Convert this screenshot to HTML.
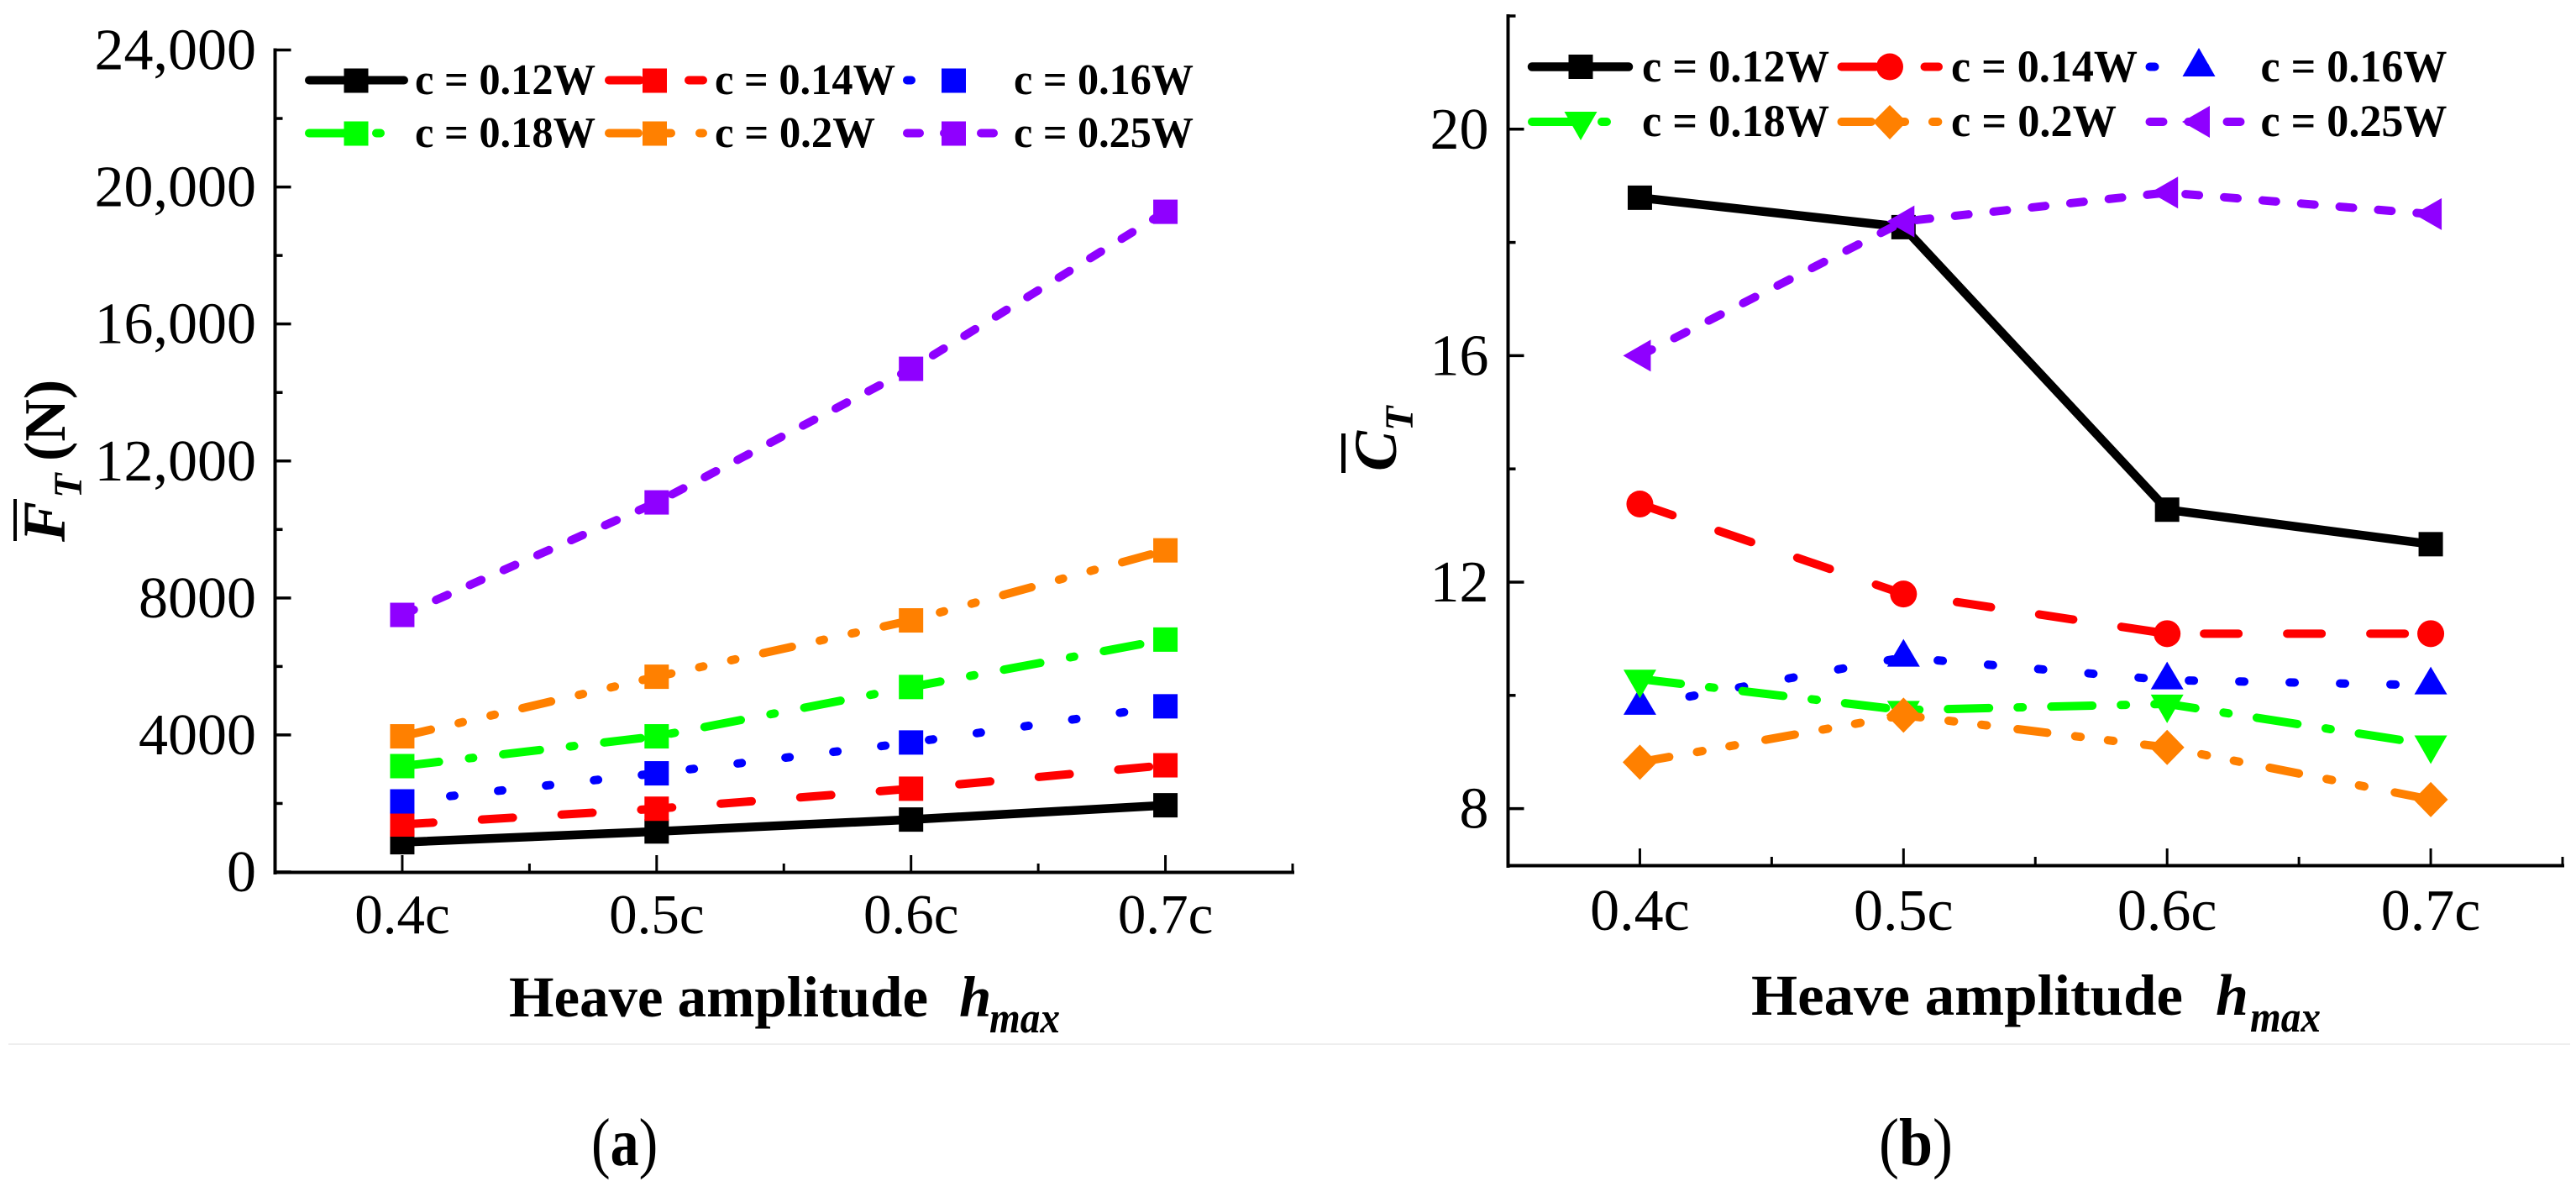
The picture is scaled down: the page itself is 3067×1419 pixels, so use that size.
<!DOCTYPE html>
<html lang="en">
<head>
<meta charset="utf-8">
<title>Thrust vs heave amplitude</title>
<style>
html,body{margin:0;padding:0;background:#fff;}
body{width:3067px;height:1419px;overflow:hidden;}
svg{display:block;}
text{font-family:"Liberation Serif",serif;fill:#000;}
.leg{font-size:52px;font-weight:bold;}
.legb{font-size:54px;font-weight:bold;}
.tick{font-size:70px;}
.ttl{font-weight:bold;}
.bi{font-weight:bold;font-style:italic;}
</style>
</head>
<body>
<svg id="figure" xmlns="http://www.w3.org/2000/svg" width="3067" height="1419" viewBox="0 0 3067 1419">
  <rect x="0" y="0" width="3067" height="1419" fill="#ffffff"/>
  <rect x="10" y="1242" width="3050" height="2" fill="#eeeeee"/>

  <g id="chart-a"></g>
  <g id="chart-b"></g>

  <!-- chart a titles -->
  <g>
    <rect x="16" y="594" width="4" height="50" fill="#000"/>
    <text class="bi" transform="translate(77,645) rotate(-90)" font-size="72">F</text>
    <text class="bi" transform="translate(97,593) rotate(-90)" font-size="48">T</text>
    <text class="ttl" transform="translate(77,549) rotate(-90)" font-size="70">(N)</text>
  </g>
  <g>
    <text class="ttl" x="606" y="1210" font-size="69" textLength="499" lengthAdjust="spacingAndGlyphs">Heave amplitude</text>
    <text class="bi" x="1142" y="1210" font-size="69">h</text>
    <text class="bi" x="1178" y="1229" font-size="52" textLength="84" lengthAdjust="spacingAndGlyphs">max</text>
  </g>
  <text transform="translate(704,1387) scale(.85,1)" font-size="80">(<tspan font-weight="bold">a</tspan>)</text>

  <!-- chart b titles -->
  <g>
    <rect x="1597" y="516" width="5" height="47" fill="#000"/>
    <text class="bi" transform="translate(1662,561) rotate(-90)" font-size="72">C</text>
    <text class="bi" transform="translate(1682,513) rotate(-90)" font-size="48">T</text>
  </g>
  <g>
    <text class="ttl" x="2085" y="1208" font-size="69" textLength="514" lengthAdjust="spacingAndGlyphs">Heave amplitude</text>
    <text class="bi" x="2638" y="1208" font-size="70">h</text>
    <text class="bi" x="2679" y="1228" font-size="52" textLength="84" lengthAdjust="spacingAndGlyphs">max</text>
  </g>
  <text transform="translate(2237,1387) scale(.9,1)" font-size="80">(<tspan font-weight="bold">b</tspan>)</text>

  <!-- legend a -->
  <g stroke-linecap="round" stroke-width="10" fill="none">
    <g>
      <line x1="368" y1="95.5" x2="481" y2="95.5" stroke="#000000" stroke-width="10"/>
      <rect x="409.500" y="81.500" width="29" height="29" fill="#000000" stroke="none"/>
      <text class="leg" x="494" y="112" stroke="none" textLength="215" lengthAdjust="spacingAndGlyphs">c = 0.12W</text>
    </g>
    <g>
      <line x1="725" y1="95.5" x2="837" y2="95.5" stroke="#ff0000" stroke-dasharray="37 58"/>
      <rect x="765" y="81.500" width="29" height="29" fill="#ff0000" stroke="none"/>
      <text class="leg" x="851" y="112" stroke="none" textLength="215" lengthAdjust="spacingAndGlyphs">c = 0.14W</text>
    </g>
    <g>
      <line x1="1080" y1="95.5" x2="1187" y2="95.5" stroke="#0000ff" stroke-dasharray="5 52.4"/>
      <rect x="1121" y="81.500" width="29" height="29" fill="#0000ff" stroke="none"/>
      <text class="leg" x="1207" y="112" stroke="none" textLength="214" lengthAdjust="spacingAndGlyphs">c = 0.16W</text>
    </g>
    <g>
      <line x1="368" y1="158.5" x2="481" y2="158.5" stroke="#00ff00" stroke-dasharray="44 36 5 36"/>
      <rect x="409.500" y="144.500" width="29" height="29" fill="#00ff00" stroke="none"/>
      <text class="leg" x="494" y="175" stroke="none" textLength="215" lengthAdjust="spacingAndGlyphs">c = 0.18W</text>
    </g>
    <g>
      <line x1="725" y1="158.5" x2="837" y2="158.5" stroke="#ff8000" stroke-dasharray="35 34 5 34 5 34"/>
      <rect x="765" y="144.500" width="29" height="29" fill="#ff8000" stroke="none"/>
      <text class="leg" x="851" y="175" stroke="none" textLength="191" lengthAdjust="spacingAndGlyphs">c = 0.2W</text>
    </g>
    <g>
      <line x1="1080" y1="158.5" x2="1184" y2="158.5" stroke="#8f00ff" stroke-dasharray="15 29"/>
      <rect x="1121" y="144.500" width="29" height="29" fill="#8f00ff" stroke="none"/>
      <text class="leg" x="1207" y="175" stroke="none" textLength="214" lengthAdjust="spacingAndGlyphs">c = 0.25W</text>
    </g>
  </g>

  <!-- legend b -->
  <g stroke-linecap="round" stroke-width="10" fill="none">
    <g>
      <line x1="1824" y1="79.5" x2="1939" y2="79.5" stroke="#000000" stroke-width="10.500"/>
      <rect x="1867.500" y="65" width="29" height="29" fill="#000000" stroke="none"/>
      <text class="legb" x="1955" y="97" stroke="none" textLength="223" lengthAdjust="spacingAndGlyphs">c = 0.12W</text>
    </g>
    <g>
      <line x1="2192.5" y1="79.5" x2="2308" y2="79.5" stroke="#ff0000" stroke-dasharray="41 58"/>
      <circle cx="2250" cy="79.5" r="16" fill="#ff0000" stroke="none"/>
      <text class="legb" x="2323" y="97" stroke="none" textLength="222" lengthAdjust="spacingAndGlyphs">c = 0.14W</text>
    </g>
    <g>
      <line x1="2559.5" y1="79.5" x2="2670" y2="79.5" stroke="#0000ff" stroke-dasharray="6 54"/>
      <polygon points="2618,57 2637.500,91 2598.500,91" fill="#0000ff" stroke="none"/>
      <text class="legb" x="2691.500" y="97" stroke="none" textLength="222" lengthAdjust="spacingAndGlyphs">c = 0.16W</text>
    </g>
    <g>
      <line x1="1824" y1="145" x2="1939" y2="145" stroke="#00ff00" stroke-dasharray="49 34 6 34"/>
      <polygon points="1862.500,133 1901.500,133 1882,167" fill="#00ff00" stroke="none"/>
      <text class="legb" x="1955" y="162" stroke="none" textLength="223" lengthAdjust="spacingAndGlyphs">c = 0.18W</text>
    </g>
    <g>
      <line x1="2192.5" y1="145" x2="2308" y2="145" stroke="#ff8000" stroke-dasharray="35.5 33.6 6.5 32.8 6.5 37"/>
      <polygon points="2250,125 2270,145 2250,166 2230,145" fill="#ff8000" stroke="none"/>
      <text class="legb" x="2323" y="162" stroke="none" textLength="197" lengthAdjust="spacingAndGlyphs">c = 0.2W</text>
    </g>
    <g>
      <line x1="2559.5" y1="145" x2="2668" y2="145" stroke="#8f00ff" stroke-dasharray="16 30"/>
      <polygon points="2598,145 2631,126 2631,164" fill="#8f00ff" stroke="none"/>
      <text class="legb" x="2691.500" y="162" stroke="none" textLength="222" lengthAdjust="spacingAndGlyphs">c = 0.25W</text>
    </g>
  </g>
</svg>

<script>
// ---- shared categories ----
const categories = ['0.4c', '0.5c', '0.6c', '0.7c'];
const amplitudes = [0.4, 0.5, 0.6, 0.7];
const seriesNames = ['c012', 'c014', 'c016', 'c018', 'c02', 'c025'];

// ---- chart (a): mean thrust force (N) ----
const forceTicks = [0, 4000, 8000, 12000, 16000, 20000, 24000];
const forceTickLabels = ['0', '4000', '8000', '12,000', '16,000', '20,000', '24,000'];
const forceMinorTicks = [2000, 6000, 10000, 14000, 18000, 22000];
const forceC012 = [868, 1182, 1530, 1947];
const forceC014 = [1385, 1846, 2430, 3114];
const forceC016 = [2060, 2880, 3780, 4836];
const forceC018 = [3090, 3960, 5400, 6785];
const forceC02 = [3960, 5700, 7345, 9390];
const forceC025 = [7505, 10790, 14690, 19276];

// ---- chart (b): mean thrust coefficient ----
const coefTicks = [8, 12, 16, 20];
const coefTickLabels = ['8', '12', '16', '20'];
const coefMinorTicks = [10, 14, 18, 22];
const coefC012 = [18.79, 18.27, 13.28, 12.67];
const coefC014 = [13.38, 11.79, 11.09, 11.09];
const coefC016 = [9.82, 10.67, 10.27, 10.18];
const coefC018 = [10.29, 9.74, 9.85, 9.13];
const coefC02 = [8.82, 9.65, 9.08, 8.16];
const coefC025 = [16.0, 18.37, 18.88, 18.5];

const SVGNS = 'http://www.w3.org/2000/svg';

function make(tag, attrs, parent) {
  const node = document.createElementNS(SVGNS, tag);
  for (const k in attrs) node.setAttribute(k, attrs[k]);
  parent.appendChild(node);
  return node;
}

function drawMarker(parent, shape, x, y, color) {
  let node;
  if (shape === 'square') {
    node = make('rect', { x: x - 14.5, y: y - 14.5, width: 29, height: 29, fill: color }, parent);
  } else if (shape === 'circle') {
    node = make('circle', { cx: x, cy: y, r: 16, fill: color }, parent);
  } else if (shape === 'up') {
    node = make('polygon', { points: [x, y - 22, x + 19.5, y + 11, x - 19.5, y + 11].join(' '), fill: color }, parent);
  } else if (shape === 'down') {
    node = make('polygon', { points: [x - 19.5, y - 11, x + 19.5, y - 11, x, y + 23].join(' '), fill: color }, parent);
  } else if (shape === 'diamond') {
    node = make('polygon', { points: [x, y - 21, x + 20.5, y, x, y + 21, x - 20.5, y].join(' '), fill: color }, parent);
  } else {
    node = make('polygon', { points: [x - 20, y, x + 13, y - 19, x + 13, y + 19].join(' '), fill: color }, parent);
  }
  return node;
}

function drawChart(cfg) {
  const root = document.getElementById(cfg.id);
  const sx = v => cfg.left + (v - 0.35) / 0.4 * (cfg.right - cfg.left);
  const sy = v => cfg.bottom - (v - cfg.yMin) / (cfg.yMax - cfg.yMin) * (cfg.bottom - cfg.top);

  const axes = make('g', {}, root);
  
  

  const yLine = make('line', { x1: cfg.left, y1: cfg.top - 2, x2: cfg.left, y2: cfg.bottom + 3, stroke: '#000', 'stroke-width': 4 }, axes);
  
  
  const xLine = make('line', { x1: cfg.left - 2, y1: cfg.bottom + 0.5, x2: cfg.right + 2, y2: cfg.bottom + 0.5, stroke: '#000', 'stroke-width': 4 }, axes);
  
  

  cfg.yTicks.forEach((t, i) => {
    const tickMark = make('line', { x1: cfg.left, y1: sy(t), x2: cfg.left + 19, y2: sy(t), stroke: '#000', 'stroke-width': 3.5 }, axes);
    
    
    const label = make('text', { class: 'tick', x: cfg.yLabelRight, y: sy(t) + 23, 'text-anchor': 'end' }, axes);
    label.textContent = cfg.yLabels[i];
    
    
  });
  cfg.yMinor.forEach(t => {
    const tickMark = make('line', { x1: cfg.left, y1: sy(t), x2: cfg.left + 9, y2: sy(t), stroke: '#000', 'stroke-width': 3.5 }, axes);
    
    
  });

  amplitudes.forEach((a, i) => {
    const tickMark = make('line', { x1: sx(a), y1: cfg.bottom, x2: sx(a), y2: cfg.bottom - 20, stroke: '#000', 'stroke-width': 3 }, axes);
    
    
    const label = make('text', { class: 'tick', x: sx(a), y: cfg.xLabelY, 'text-anchor': 'middle', style: 'font-size:' + cfg.xLabelSize + 'px' }, axes);
    label.textContent = categories[i];
    
    
    const minor = make('line', { x1: sx(a + 0.05), y1: cfg.bottom, x2: sx(a + 0.05), y2: cfg.bottom - 10, stroke: '#000', 'stroke-width': 3 }, axes);
    
    
  });

  seriesNames.forEach((name, s) => {
    const group = make('g', {}, root);
    
    
    const color = cfg.colors[s];
    const values = cfg.series[s];
    const pts = values.map((v, i) => sx(amplitudes[i]) + ',' + sy(v)).join(' ');
    const line = make('polyline', {
      points: pts, fill: 'none', stroke: color,
      'stroke-width': s === 0 ? 10.5 : 10,
      'stroke-linecap': s === 0 ? 'butt' : 'round',
      'stroke-linejoin': 'round',
      'stroke-dasharray': cfg.dashes[s]
    }, group);
    
    
    values.forEach((v, i) => {
      const mark = drawMarker(group, cfg.shapes[s], sx(amplitudes[i]), sy(v), color);
      
      
    });
  });
}

const palette = ['#000000', '#ff0000', '#0000ff', '#00ff00', '#ff8000', '#8f00ff'];

drawChart({
  id: 'chart-a', key: 'a',
  left: 327.5, right: 1539, top: 59.5, bottom: 1038,
  yMin: 0, yMax: 24000,
  yTicks: forceTicks, yLabels: forceTickLabels, yMinor: forceMinorTicks,
  yLabelRight: 305, xLabelY: 1111, xLabelSize: 67,
  colors: palette,
  shapes: ['square', 'square', 'square', 'square', 'square', 'square'],
  dashes: ['none', '37 58', '5 52.4', '44 36 5 36', '35 34 5 34 5 34', '15 29'],
  series: [forceC012, forceC014, forceC016, forceC018, forceC02, forceC025]
});

drawChart({
  id: 'chart-b', key: 'b',
  left: 1795.5, right: 3051, top: 19, bottom: 1030,
  yMin: 7, yMax: 22,
  yTicks: coefTicks, yLabels: coefTickLabels, yMinor: coefMinorTicks,
  yLabelRight: 1772.5, xLabelY: 1107, xLabelSize: 70,
  colors: palette,
  shapes: ['square', 'circle', 'up', 'down', 'diamond', 'left'],
  dashes: ['none', '41 58', '6 54', '49 34 6 34', '35.5 33.6 6.5 32.8 6.5 37', '16 30'],
  series: [coefC012, coefC014, coefC016, coefC018, coefC02, coefC025]
});
</script>
</body>
</html>
